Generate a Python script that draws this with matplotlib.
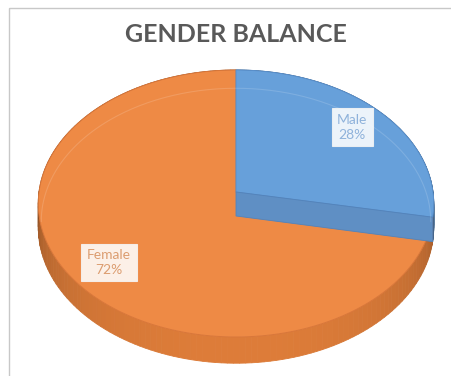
import numpy as np
import matplotlib.pyplot as plt
from matplotlib.colors import to_rgb
from matplotlib.patches import Polygon, Rectangle

# gender split, percent
labels = ['Male', 'Female']
shares = [28, 72]

top_colors = ['#67a0da', '#ee8a45']
side_colors = ['#4f86c0', '#e27f3a']
cut_color = '#5f8fc4'
text_colors = ['#8fb2db', '#dc9d70']

# projected disc: centre, half-axes, perspective strength, thickness (pixels)
CX, CY = 236, 192
A, B = 197, 132.5
K = 0.086
DEPTH = 24


def proj(theta, r=1.0, z=0.0):
    """theta in radians, clockwise from 12 o'clock; returns image x, y."""
    s = 1.0 / (1.0 + K * r * np.cos(theta))
    x = CX + A * r * np.sin(theta) * s
    y = CY - B * r * np.cos(theta) * s + z * s
    return x, y


def wedge(t0, t1, n=200):
    th = np.linspace(t0, t1, n)
    x, y = proj(th)
    return np.column_stack([np.r_[CX, x], np.r_[CY, y]])


fig = plt.figure(figsize=(4.52, 3.76), dpi=100)
ax = fig.add_axes([0, 0, 1, 1])
ax.set_xlim(0, 452)
ax.set_ylim(376, 0)
ax.axis('off')

ax.add_patch(Rectangle((9.5, 7.5), 460, 400, fill=False, ec='#c8c8c8', lw=1))

bounds = np.radians(np.r_[0, np.cumsum(shares)] * 3.6)

# side wall, shaded towards the edges
for i in range(len(shares)):
    th = np.linspace(bounds[i], bounds[i + 1], 160)
    base = np.array(to_rgb(side_colors[i]))
    for a0, a1 in zip(th[:-1], th[1:]):
        m = 0.5 * (a0 + a1)
        f = 0.58 + 0.4 * max(0.0, -np.cos(m)) ** 0.5
        c = np.clip(base * f, 0, 1)
        x0, y0 = proj(a0)
        x1, y1 = proj(a1)
        x2, y2 = proj(a1, z=DEPTH)
        x3, y3 = proj(a0, z=DEPTH)
        ax.add_patch(Polygon([[x0, y0], [x1, y1], [x2, y2], [x3, y3]],
                             closed=True, fc=c, ec=c, lw=0.6))

# top faces: female first, male on top
edge_cols = ['#5a90cc', '#d9773a']
for i in [1, 0]:
    ax.add_patch(Polygon(wedge(bounds[i], bounds[i + 1]), closed=True,
                         fc=top_colors[i], ec=edge_cols[i], lw=0.7))

# cut face at the end of the male slice
xe, ye = proj(bounds[1])
xb, yb = proj(bounds[1], z=DEPTH)
ax.add_patch(Polygon([[CX, CY], [xe, ye], [xb, yb], [CX, CY + DEPTH]],
                     closed=True, fc=cut_color, ec='#5283bb', lw=0.6))

# faint far rim seen through the top
th = np.linspace(np.radians(-95), np.radians(95), 200)
fx, fy = proj(th, r=0.985, z=DEPTH * 0.75)
ax.plot(fx, fy, color='white', alpha=0.15, lw=0.8)

# data labels
for i in range(len(shares)):
    mid = 0.5 * (bounds[i] + bounds[i + 1])
    lx, ly = proj(mid, r=0.8)
    ax.text(lx, ly, f'{labels[i]}\n{shares[i]}%', ha='center', va='center',
            fontsize=10, family='Lato', color=text_colors[i], linespacing=1.25,
            bbox=dict(boxstyle='square,pad=0.4', fc='white', alpha=0.88,
                      ec='#f4f4f4', lw=0.8))

ax.text(236, 35, 'GENDER BALANCE', ha='center', va='center', fontsize=18,
        fontweight='bold', family='Lato', color='#595959')

fig.savefig('out.png', dpi=100)
